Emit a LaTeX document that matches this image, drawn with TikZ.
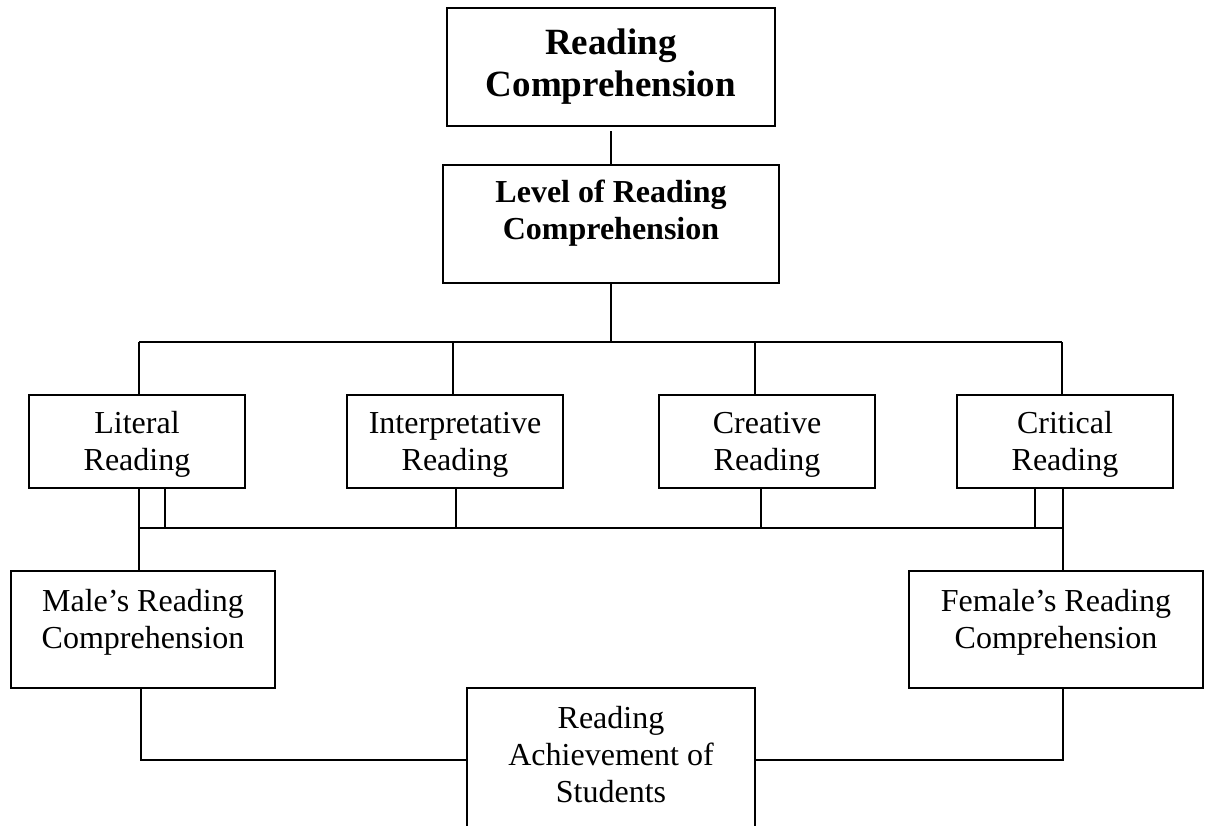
\documentclass[tikz,border=0pt]{standalone}
\usepackage{fontspec}
\setmainfont{Liberation Serif}
\begin{document}
\begin{tikzpicture}[x=1pt,y=-1pt,
  box/.style={draw, line width=2.5pt, inner sep=0pt, align=center, anchor=base,
    font=\fontsize{32}{37}\selectfont},
  boldbox/.style={box, font=\fontsize{32}{37}\selectfont\bfseries},
  bigbox/.style={box, font=\fontsize{37}{42}\selectfont\bfseries},
  link/.style={line width=2.3pt}]
\useasboundingbox (0,0) rectangle (1209,826);
\clip (0,0) rectangle (1209,826);

% boxes (anchor = baseline of the last text line)
\node[bigbox, minimum width=328pt, text height=89pt, text depth=29pt] (RC) at (611,97) {Reading\\Comprehension};
\node[boldbox, minimum width=336pt, text height=75pt, text depth=43pt] (LRC) at (611,240) {Level of Reading\\Comprehension};

\node[box, minimum width=216pt, text height=75pt, text depth=18pt] (LR) at (137,470) {Literal\\Reading};
\node[box, minimum width=216pt, text height=75pt, text depth=18pt] (IR) at (455,470) {Interpretative\\Reading};
\node[box, minimum width=216pt, text height=75pt, text depth=18pt] (CR) at (767,470) {Creative\\Reading};
\node[box, minimum width=216pt, text height=75pt, text depth=18pt] (CrR) at (1065,470) {Critical\\Reading};

\node[box, minimum width=264pt, text height=77pt, text depth=40pt] (MR) at (143,648) {Male’s Reading\\Comprehension};
\node[box, minimum width=294pt, text height=77pt, text depth=40pt] (FR) at (1056,648) {Female’s Reading\\Comprehension};

\node[box, minimum width=288pt, text height=114pt, text depth=60pt] (RA) at (611,802) {Reading\\Achievement of\\Students};

% junction points
\coordinate (t1) at (139,342);
\coordinate (t2) at (453,342);
\coordinate (t3) at (755,342);
\coordinate (t4) at (1062,342);
\coordinate (b1) at (139,528);
\coordinate (b4) at (1063,528);
\coordinate (k1) at (165,528);
\coordinate (k2) at (456,528);
\coordinate (k3) at (761,528);
\coordinate (k4) at (1035,528);
\coordinate (m1) at (141,760);
\coordinate (f1) at (1063,760);

% top connectors
\draw[link, shorten <=4pt] (RC.south) -- (LRC.north);
\draw[link] (LRC.south) -- (LRC.south |- t1);
\draw[link] (t1) -- (t4);
\draw[link] (t1) -- (t1 |- LR.north);
\draw[link] (t2) -- (t2 |- IR.north);
\draw[link] (t3) -- (t3 |- CR.north);
\draw[link] (t4) -- (t4 |- CrR.north);

% middle bus
\draw[link] (b1) -- (b4);
\draw[link] (b1 |- LR.south) -- (b1 |- MR.north);
\draw[link] (b4 |- CrR.south) -- (b4 |- FR.north);
\draw[link] (k1 |- LR.south) -- (k1);
\draw[link] (k2 |- IR.south) -- (k2);
\draw[link] (k3 |- CR.south) -- (k3);
\draw[link] (k4 |- CrR.south) -- (k4);

% bottom connectors
\draw[link] (m1 |- MR.south) -- (m1) -- (m1 -| RA.west);
\draw[link] (f1 |- FR.south) -- (f1) -- (f1 -| RA.east);
\end{tikzpicture}
\end{document}
